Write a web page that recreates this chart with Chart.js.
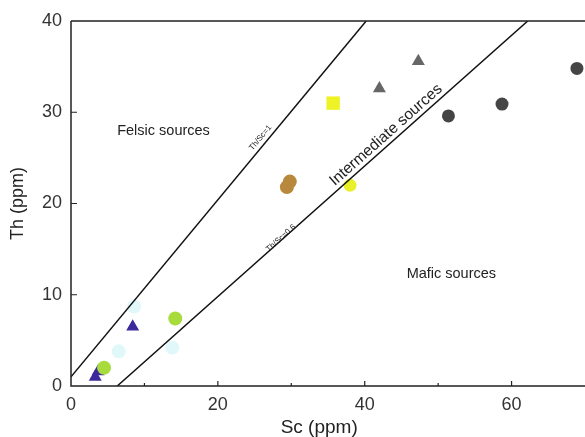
<!DOCTYPE html>
<html>
<head>
<meta charset="utf-8">
<script src="https://cdn.jsdelivr.net/npm/chart.js@4/dist/chart.umd.min.js"></script>
<style>
html,body{margin:0;padding:0;background:#fff;}
#wrap{width:585px;height:437px;position:relative;}
</style>
</head>
<body>
<div id="wrap"><canvas id="c" width="585" height="437"></canvas></div>
<script>
// Data (Sc ppm, Th ppm)
const navyTriangles = [{x:3.3,y:1.0},{x:3.7,y:1.6},{x:8.4,y:6.5}];
const limeCircles = [{x:4.5,y:2.0},{x:14.2,y:7.4}];
const paleCyanCircles = [{x:13.8,y:4.2},{x:6.5,y:3.8},{x:8.6,y:8.7}];
const brownCircles = [{x:29.4,y:21.8},{x:29.8,y:22.4}];
const yellowSquares = [{x:35.7,y:31.0}];
const yellowCircles = [{x:38.0,y:22.0}];
const grayTriangles = [{x:42.0,y:32.6},{x:47.3,y:35.6}];
const darkCircles = [{x:51.4,y:29.6},{x:58.7,y:30.9},{x:68.9,y:34.8}];
const lineThSc1 = [{x:0,y:1.0},{x:40.2,y:40}];
const lineThSc06 = [{x:6.3,y:0},{x:62.2,y:40}];
const xTicks = [0,20,40,60];
const xMinorTicks = [10,30,50];
const yTicks = [0,10,20,30,40];
const labels = [
  {text:'Felsic sources', x:12.6, y:28.0, angle:0, size:14.5},
  {text:'Mafic sources', x:51.8, y:12.3, angle:0, size:14.5},
  {text:'Intermediate sources', x:42.9, y:27.5, angle:-41.6, size:15.5},
  {text:'Th/Sc=1', x:25.8, y:27.2, angle:-50.3, size:8},
  {text:'Th/Sc=0.6', x:28.6, y:16.2, angle:-41.6, size:8}
];

const FONT = 'Liberation Sans, Arial, sans-serif';

const overlay = {
  id:'overlay',
  afterDraw(chart){
    const ctx = chart.ctx, xs = chart.scales.x, ys = chart.scales.y;
    const ca = chart.chartArea;
    ctx.save();
    ctx.strokeStyle = '#222';
    ctx.lineWidth = 1.5;
    ctx.beginPath();
    ctx.moveTo(ca.left, ca.top); ctx.lineTo(ca.left, ca.bottom);
    ctx.lineTo(ca.right, ca.bottom);
    ctx.moveTo(ca.left, ca.top); ctx.lineTo(ca.right, ca.top);
    ctx.stroke();
    ctx.lineWidth = 1.2;
    ctx.beginPath();
    xTicks.forEach(v=>{ if(v===0) return; const p = xs.getPixelForValue(v); ctx.moveTo(p, ca.bottom); ctx.lineTo(p, ca.bottom-5); });
    xMinorTicks.forEach(v=>{ const p = xs.getPixelForValue(v); ctx.moveTo(p, ca.bottom); ctx.lineTo(p, ca.bottom-3); });
    yTicks.forEach(v=>{ if(v===0||v===40) return; const p = ys.getPixelForValue(v); ctx.moveTo(ca.left, p); ctx.lineTo(ca.left+6, p); });
    ctx.stroke();
    ctx.fillStyle = '#333';
    ctx.font = '18px ' + FONT;
    ctx.textAlign = 'center'; ctx.textBaseline = 'middle';
    xTicks.forEach(v=>{ ctx.fillText(String(v), xs.getPixelForValue(v), 405); });
    ctx.textAlign = 'right'; ctx.textBaseline = 'middle';
    yTicks.forEach(v=>{ ctx.fillText(String(v), ca.left-9, ys.getPixelForValue(v)); });
    ctx.fillStyle = '#222';
    ctx.font = '19px ' + FONT;
    ctx.textAlign = 'center'; ctx.textBaseline = 'middle';
    ctx.fillText('Sc (ppm)', xs.getPixelForValue(33.8), 428);
    ctx.save();
    ctx.translate(18, ys.getPixelForValue(20));
    ctx.rotate(-Math.PI/2);
    ctx.font = '18px ' + FONT;
    ctx.fillText('Th (ppm)', 0, 0);
    ctx.restore();
    labels.forEach(l=>{
      ctx.save();
      ctx.translate(xs.getPixelForValue(l.x), ys.getPixelForValue(l.y));
      ctx.rotate(l.angle*Math.PI/180);
      ctx.font = l.size + 'px ' + FONT;
      ctx.fillStyle = '#222';
      ctx.textAlign = 'center'; ctx.textBaseline = 'middle';
      ctx.fillText(l.text, 0, 0);
      ctx.restore();
    });
    ctx.restore();
  }
};

function ds(data, color, style, r){
  return {data, backgroundColor:color, borderColor:color, pointStyle:style, pointRadius:r, pointHoverRadius:r, borderWidth:0};
}

new Chart(document.getElementById('c'), {
  type:'scatter',
  data:{datasets:[
    {type:'line', data:lineThSc1, borderColor:'#111', borderWidth:1.5, pointRadius:0, fill:false},
    {type:'line', data:lineThSc06, borderColor:'#111', borderWidth:1.5, pointRadius:0, fill:false},
    ds(paleCyanCircles, 'rgba(215,245,248,0.75)', 'circle', 7),
    ds(brownCircles, '#b8893c', 'circle', 7),
    ds(yellowSquares, '#eef325', 'rect', 9.5),
    ds(yellowCircles, '#e8f02a', 'circle', 6.5),
    ds(limeCircles, '#a8dc3c', 'circle', 7),
    ds(navyTriangles, '#3a2a9c', 'triangle', 7.5),
    ds(grayTriangles, '#666666', 'triangle', 7.5),
    ds(darkCircles, '#454545', 'circle', 6.5)
  ]},
  options:{
    responsive:false, animation:false,
    layout:{autoPadding:false, padding:{top:21,right:0,left:0,bottom:0}},
    plugins:{legend:{display:false}, tooltip:{enabled:false}},
    scales:{
      x:{type:'linear', min:0, max:70, display:true,
         grid:{display:false, drawTicks:false}, border:{display:false},
         ticks:{display:false},
         afterFit(s){ s.height = 51; }},
      y:{type:'linear', min:0, max:40, display:true,
         grid:{display:false, drawTicks:false}, border:{display:false},
         ticks:{display:false},
         afterFit(s){ s.width = 71; }}
    }
  },
  plugins:[overlay]
});
</script>
</body>
</html>
